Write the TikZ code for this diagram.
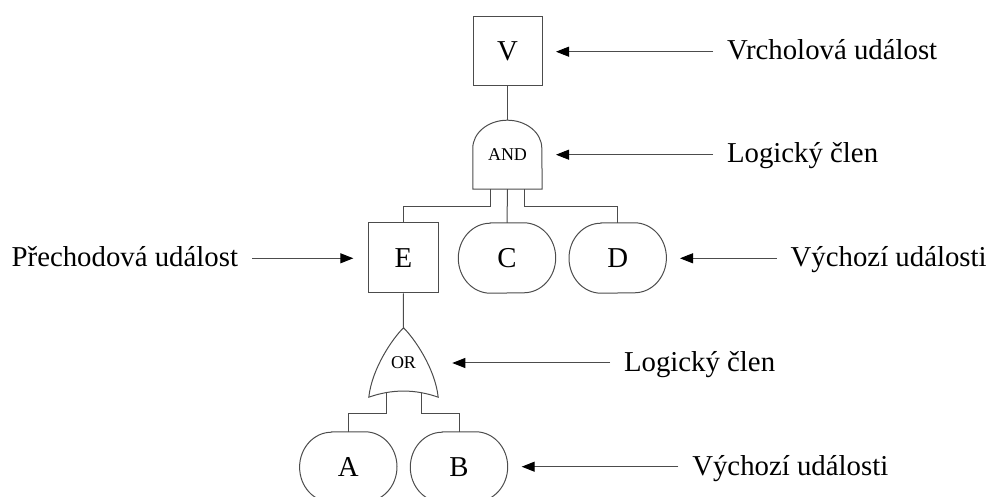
\documentclass[tikz,border=0pt]{standalone}
\usepackage{fontspec}
\setmainfont{Liberation Serif}
\usetikzlibrary{arrows.meta}
\newcommand\drawevt[1]{%
  \draw[ln] ([xshift=32pt]#1.north west) -- ([xshift=-32pt]#1.north east)
    arc[start angle=90,end angle=-90,x radius=32,y radius=35]
    -- ([xshift=32pt]#1.south west)
    arc[start angle=270,end angle=90,x radius=32,y radius=35] -- cycle;}
\begin{document}
\begin{tikzpicture}[x=1pt,y=1pt,
  ln/.style={draw=black!70,line width=1pt},
  big/.style={font=\fontsize{28.8}{34}\selectfont},
  box/.style={ln,big,rectangle,minimum width=69pt,minimum height=69pt,inner sep=0pt},
  evt/.style={big,rectangle,minimum width=97pt,minimum height=70pt,inner sep=0pt},
  gate/.style={rectangle,minimum width=69pt,minimum height=69pt,inner sep=0pt,font=\fontsize{18}{20}\selectfont},
  lbl/.style={big,inner sep=0pt,outer xsep=14pt},
  arr/.style={ln,-{Triangle[length=13pt,width=10pt,color=black]}}]
\clip (0,0) rectangle (989,-497);
% events and gates
\node[box] (V) at (507.5,-51.5) {V};
\node[gate] (AND) at (507.5,-154.5) {AND};
\draw[ln] (AND.south west) -- ++(0,41)
  arc[start angle=180,end angle=0,x radius=34.5,y radius=28] -- (AND.south east) -- cycle;
\node[box,minimum width=70pt,minimum height=70pt] (E) at (403.3,-258) {E};
\node[evt] (C) at (507,-258) {C};
\node[evt] (D) at (617.7,-258) {D};
\drawevt{C}\drawevt{D}
\node[gate] (OR) at (403.5,-362.5) {OR};
\draw[ln] (OR.north) .. controls (393,-338) and (372,-368) .. (OR.south west)
  .. controls (392,-389) and (415,-389) .. (OR.south east)
  .. controls (435,-368) and (414,-338) .. (OR.north) -- cycle;
\node[evt] (A) at (348.3,-467) {A};
\node[evt] (B) at (459,-467) {B};
\drawevt{A}\drawevt{B}
% tree connectors
\draw[ln] (V.south) -- (AND.north);
\draw[ln] ([xshift=-17.5pt]AND.south) -- ++(0,-17) -| (E.north);
\draw[ln] (AND.south) -- (C.north);
\draw[ln] ([xshift=17pt]AND.south) -- ++(0,-17) -| (D.north);
\draw[ln] (E.south) -- (OR.north);
\draw[ln] ([xshift=-17pt,yshift=4.5pt]OR.south) -- ++(0,-21) -| (A.north);
\draw[ln] ([xshift=17.5pt,yshift=4.5pt]OR.south) -- ++(0,-21) -| (B.north);
% labels
\node[lbl,anchor=base west] (lV) at (713,-60) {Vrcholová událost};
\node[lbl,anchor=base west] (lAND) at (713,-163) {Logický člen};
\node[lbl,anchor=base east] (lE) at (252,-266.7) {Přechodová událost};
\node[lbl,anchor=base west] (lD) at (776.7,-266.7) {Výchozí události};
\node[lbl,anchor=base west] (lOR) at (610,-371.7) {Logický člen};
\node[lbl,anchor=base west] (lB) at (678.3,-475) {Výchozí události};
\coordinate (tV) at (556,-51.7);
\coordinate (tAND) at (556,-154.7);
\coordinate (tE) at (353.3,-258.3);
\coordinate (tD) at (680,-258.3);
\coordinate (tOR) at (452.3,-363);
\coordinate (tB) at (521.7,-466.7);
\draw[arr] (lV.west |- tV) -- (tV);
\draw[arr] (lAND.west |- tAND) -- (tAND);
\draw[arr] (lE.east |- tE) -- (tE);
\draw[arr] (lD.west |- tD) -- (tD);
\draw[arr] (lOR.west |- tOR) -- (tOR);
\draw[arr] (lB.west |- tB) -- (tB);
\end{tikzpicture}
\end{document}
